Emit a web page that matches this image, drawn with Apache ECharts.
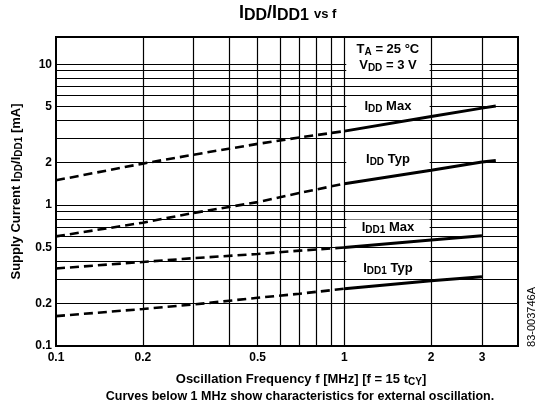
<!DOCTYPE html>
<html>
<head>
<meta charset="utf-8">
<script src="https://cdn.jsdelivr.net/npm/echarts@6/dist/echarts.min.js"></script>
<style>
html,body{margin:0;padding:0;background:#fff;}
#chart{width:540px;height:410px;}
</style>
</head>
<body>
<div id="chart"></div>
<script>
// ---- data ----
const freqDashed = [0.1, 0.2, 0.3, 0.5, 0.7, 1];
const iddMaxDashed  = [1.5, 1.97, 2.28, 2.72, 3.02, 3.35];
const iddTypDashed  = [0.6, 0.75, 0.88, 1.05, 1.22, 1.42];
const idd1MaxDashed = [0.355, 0.395, 0.42, 0.45, 0.475, 0.5];
const idd1TypDashed = [0.163, 0.183, 0.197, 0.22, 0.235, 0.255];

const freqSolidIdd  = [1, 2, 3, 3.35];
const iddMaxSolid   = [3.35, 4.25, 4.88, 5.05];
const iddTypSolid   = [1.42, 1.77, 2.02, 2.07];
const freqSolidIdd1 = [1, 2, 3];
const idd1MaxSolid  = [0.5, 0.565, 0.605];
const idd1TypSolid  = [0.255, 0.29, 0.31];

const xTickLabels = [0.1, 0.2, 0.5, 1, 2, 3];
const yTickLabels = [0.1, 0.2, 0.5, 1, 2, 5, 10];
const xGridValues = [0.2, 0.3, 0.4, 0.5, 0.6, 0.7, 0.8, 0.9, 1, 2, 3];
const yGridValues = [0.2, 0.3, 0.4, 0.5, 0.6, 0.7, 0.8, 0.9, 1, 2, 3, 4, 5, 6, 7, 8, 9, 10];

// ---- chart ----
const FONT = '"Liberation Sans", Arial, Helvetica, sans-serif';
const pairs = (xs, ys) => xs.map((x, i) => [x, ys[i]]);
const fmt = v => String(Math.round(v * 1000) / 1000);

function richSet(main, sub, lh, subLh) {
  return {
    m: { fontFamily: FONT, fontWeight: 'bold', fontSize: main, color: '#000', lineHeight: lh },
    s: { fontFamily: FONT, fontWeight: 'bold', fontSize: sub, color: '#000', lineHeight: subLh, verticalAlign: 'bottom' }
  };
}
const richAxis = richSet(13, 10, 16, 10);
const richBox = richSet(13, 10, 16, 12);

const dashedStyle = { color: '#000', width: 2.6, type: [9, 5] };
const solidStyle = { color: '#000', width: 3, type: 'solid' };

function curve(name, xs, ys, style) {
  return {
    type: 'line', name, data: pairs(xs, ys), showSymbol: false, symbol: 'none',
    lineStyle: style, z: 10, silent: true, animation: false
  };
}

const gridLines = [];
xGridValues.forEach(v => gridLines.push({ xAxis: v }));
yGridValues.forEach(v => gridLines.push({ yAxis: v }));

const boxes = [
  [{ xAxis: 1.015, yAxis: 15.0, label: { formatter: '{m|T}{s|A}{m| = 25 °C}\n{m|V}{s|DD}{m| = 3 V}' } }, { xAxis: 1.975, yAxis: 8.35 }],
  [{ xAxis: 1.015, yAxis: 5.85, label: { formatter: '{m|I}{s|DD}{m| Max}' } }, { xAxis: 1.975, yAxis: 4.35 }],
  [{ xAxis: 1.015, yAxis: 2.42, label: { formatter: '{m|I}{s|DD}{m| Typ}' } }, { xAxis: 1.975, yAxis: 1.83 }],
  [{ xAxis: 1.015, yAxis: 0.79, label: { formatter: '{m|I}{s|DD1}{m| Max}' } }, { xAxis: 1.975, yAxis: 0.615 }],
  [{ xAxis: 1.015, yAxis: 0.42, label: { formatter: '{m|I}{s|DD1}{m| Typ}' } }, { xAxis: 1.975, yAxis: 0.305 }]
];

const option = {
  animation: false,
  backgroundColor: '#fff',
  title: [
    {
      text: '{m|I}{s|DD}{m|/I}{s|DD1}',
      left: 309, textAlign: 'right', top: 2, padding: 0,
      textStyle: {
        rich: {
          m: { fontFamily: FONT, fontWeight: 'bold', fontSize: 18, color: '#000', lineHeight: 22 },
          s: { fontFamily: FONT, fontWeight: 'bold', fontSize: 16, color: '#000', lineHeight: 19, verticalAlign: 'bottom' }
        }
      }
    },
    {
      text: 'vs f',
      left: 314, textAlign: 'left', top: 7, padding: 0,
      textStyle: { fontFamily: FONT, fontWeight: 'bold', fontSize: 13, lineHeight: 15, color: '#000' }
    },
    {
      text: 'Curves below 1 MHz show characteristics for external oscillation.',
      left: 300, textAlign: 'center', top: 389, padding: 0,
      textStyle: { fontFamily: FONT, fontWeight: 'bold', fontSize: 12.5, lineHeight: 16, color: '#000' }
    }
  ],
  grid: { left: 56, right: 22, top: 37, bottom: 64, show: true, borderColor: '#000', borderWidth: 2, backgroundColor: 'transparent' },
  xAxis: {
    type: 'log', logBase: 10, min: 0.1, max: 4,
    name: '{m|Oscillation Frequency f [MHz] [f = 15 t}{s|CY}{m|]}',
    nameLocation: 'middle', nameGap: 25,
    nameTextStyle: { rich: richAxis, padding: [0, 0, 0, 28] },
    axisLine: { show: true, lineStyle: { color: '#000', width: 2 } },
    axisTick: { show: false },
    splitLine: { show: false },
    minorSplitLine: { show: false },
    axisLabel: {
      customValues: xTickLabels, formatter: fmt, margin: 6,
      fontFamily: FONT, fontWeight: 'bold', fontSize: 12, color: '#000'
    }
  },
  yAxis: {
    type: 'log', logBase: 10, min: 0.1, max: 15.6,
    name: '{m|Supply Current I}{s|DD}{m|/I}{s|DD1}{m| [mA]}',
    nameLocation: 'middle', nameGap: 28,
    nameTextStyle: { rich: richAxis },
    axisLine: { show: true, lineStyle: { color: '#000', width: 2 } },
    axisTick: { show: false },
    splitLine: { show: false },
    minorSplitLine: { show: false },
    axisLabel: {
      customValues: yTickLabels, formatter: fmt, margin: 4,
      fontFamily: FONT, fontWeight: 'bold', fontSize: 12, color: '#000'
    }
  },
  graphic: [{
    type: 'text', x: 532, y: 317, rotation: Math.PI / 2,
    style: { text: '83-003746A', fontFamily: FONT, fontSize: 11, fill: '#000', align: 'center', verticalAlign: 'middle' }
  }],
  series: [
    {
      type: 'line', name: 'grid', data: [], silent: true, z: 1,
      markLine: {
        silent: true, z: 1, symbol: ['none', 'none'], animation: false,
        label: { show: false },
        lineStyle: { color: '#000', width: 1.2, type: 'solid' },
        data: gridLines
      }
    },
    {
      type: 'line', name: 'boxes', data: [], silent: true, z: 3,
      markArea: {
        silent: true, z: 3, animation: false,
        itemStyle: { color: '#fff', opacity: 1 },
        label: { show: true, position: 'inside', rich: richBox, color: '#000' },
        data: boxes
      }
    },
    curve('IDD Max dashed', freqDashed, iddMaxDashed, dashedStyle),
    curve('IDD Typ dashed', freqDashed, iddTypDashed, dashedStyle),
    curve('IDD1 Max dashed', freqDashed, idd1MaxDashed, dashedStyle),
    curve('IDD1 Typ dashed', freqDashed, idd1TypDashed, dashedStyle),
    curve('IDD Max', freqSolidIdd, iddMaxSolid, solidStyle),
    curve('IDD Typ', freqSolidIdd, iddTypSolid, solidStyle),
    curve('IDD1 Max', freqSolidIdd1, idd1MaxSolid, solidStyle),
    curve('IDD1 Typ', freqSolidIdd1, idd1TypSolid, solidStyle)
  ]
};

const chart = echarts.init(document.getElementById('chart'), null, { renderer: 'canvas' });
chart.setOption(option);
</script>
</body>
</html>
